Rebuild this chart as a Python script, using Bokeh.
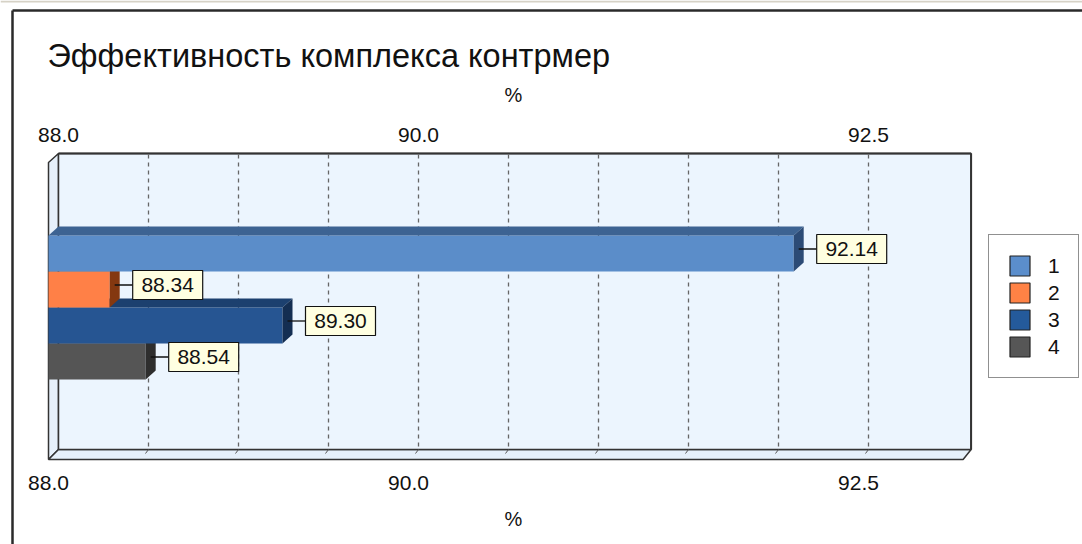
from bokeh.plotting import figure
from bokeh.models import Range1d, Legend, LegendItem
from bokeh.core.properties import value
from bokeh.embed import file_html
from bokeh.resources import INLINE

# ---------------- data ----------------
TITLE = "Эффективность комплекса контрмер"
AXIS_TITLE = "%"
SERIES = ["1", "2", "3", "4"]
VALUES = [92.14, 88.34, 89.30, 88.54]
VALUE_LABELS = ["92.14", "88.34", "89.30", "88.54"]
TICKS = [88.0, 90.0, 92.5]
TICK_LABELS = ["88.0", "90.0", "92.5"]
GRID = [88.5, 89.0, 89.5, 90.0, 90.5, 91.0, 91.5, 92.0, 92.5]
X_MIN = 88.0
X_MAX = 93.07

COLORS_FRONT = ["#5B8DC9", "#FF8047", "#265592", "#555555"]
COLORS_TOP = ["#3D6392", "#A84A1C", "#1C406F", "#3A3A3A"]
COLORS_SIDE = ["#2C4B76", "#843810", "#142E52", "#2E2E2E"]
LEGEND_COLORS = ["#5B8ECC", "#FF8245", "#245A9B", "#565656"]

# ---------------- layout ----------------
W, H = 1082, 544
PX = 180.0          # screen pixels per axis unit
ORIGIN = 58         # screen x of X_MIN on the back wall
DX, DY = 10, 9      # 3D depth offset in pixels
DXU = DX / PX
WALL_TOP, WALL_BOT = 153, 449
ROW_H = 36
ROWS_TOP = 235
FONT_NAME = "Liberation Sans"
FONT = value(FONT_NAME)
EDGE = "#333333"
TXT = "#111111"

x0 = X_MIN - ORIGIN / PX
xr = x0 + W / PX
p = figure(width=W, height=H, output_backend="svg", toolbar_location=None,
           x_range=Range1d(x0, xr), y_range=Range1d(H, 0),
           x_axis_type=None, y_axis_type=None, min_border=0,
           outline_line_color=None, background_fill_color="white",
           border_fill_color="white")

# window band and chart border (left and top)
p.segment(x0=[x0], y0=[1], x1=[xr], y1=[1], line_color="#D6D2C6", line_width=2)
p.segment(x0=[x0 + 12 / PX, x0 + 12 / PX], y0=[10, 10], x1=[x0 + 12 / PX, xr], y1=[H, 10],
          line_color="#2a2a2a", line_width=2.5)

# back wall, left wall, floor
WALL_FILL = "#ECF5FE"
p.patch(x=[X_MIN - DXU, X_MIN, X_MIN, X_MIN - DXU],
        y=[WALL_TOP + DY, WALL_TOP, WALL_BOT, WALL_BOT + DY + 1],
        fill_color="#E6F0FA", line_color=EDGE, line_width=1.5)
p.patch(x=[X_MIN - DXU, X_MIN, X_MAX, X_MAX - DXU * 0.8],
        y=[WALL_BOT + DY + 1, WALL_BOT, WALL_BOT, WALL_BOT + DY + 1],
        fill_color="#E6F0FA", line_color=EDGE, line_width=1.5)
p.quad(left=[X_MIN], right=[X_MAX], top=[WALL_TOP], bottom=[WALL_BOT],
       fill_color=WALL_FILL, line_color=EDGE, line_width=1.5)
p.segment(x0=[X_MIN, X_MAX], y0=[WALL_TOP, WALL_TOP], x1=[X_MAX, X_MAX], y1=[WALL_TOP, WALL_BOT],
          line_color=EDGE, line_width=2)

# grid lines (dashed) and floor ticks
p.segment(x0=GRID, y0=[WALL_TOP + 1] * len(GRID), x1=GRID, y1=[WALL_BOT] * len(GRID),
          line_color="#666666", line_width=1.3, line_dash="4 4")
p.segment(x0=GRID, y0=[WALL_BOT] * len(GRID), x1=[g - 3 / PX for g in GRID],
          y1=[WALL_BOT + 4] * len(GRID), line_color="#555555", line_width=1)

# bars (drawn bottom-up so upper bars hide lower bars' top faces)
fronts = {}
for i in list(range(len(VALUES)))[::-1]:
    v = VALUES[i]
    yt = ROWS_TOP + ROW_H * i
    yb = yt + ROW_H
    p.quad(left=[X_MIN - DXU], right=[v - DXU], top=[yt], bottom=[yb],
           fill_color=COLORS_FRONT[i], line_color=None)
    p.patch(x=[X_MIN - DXU, X_MIN, v, v - DXU], y=[yt, yt - DY, yt - DY, yt],
            fill_color=COLORS_TOP[i], line_color=None)
    p.patch(x=[v - DXU, v, v, v - DXU], y=[yt, yt - DY, yb - DY, yb],
            fill_color=COLORS_SIDE[i], line_color=None)
    # hidden copy used only for the legend swatch (with border)
    fronts[i] = p.quad(left=[X_MIN - DXU], right=[v - DXU], top=[yt], bottom=[yb],
                       fill_color=LEGEND_COLORS[i], line_color="#222222", line_width=1.2,
                       visible=False)

# value labels with connectors
yc = [ROWS_TOP + ROW_H * i + ROW_H / 2 - DY / 2 for i in range(len(VALUES))]
p.segment(x0=[v - 5 / PX for v in VALUES], y0=yc, x1=[v + 13 / PX for v in VALUES], y1=yc,
          line_color=TXT, line_width=1.3)
lx = [v + 48 / PX for v in VALUES]
p.rect(x=lx, y=yc, width=70, height=29, width_units="screen", height_units="screen",
       fill_color="#FFFFE1", line_color=TXT, line_width=1.2)
p.text(x=lx, y=yc, text=VALUE_LABELS, text_align="center", text_baseline="middle",
       text_font=FONT, text_font_size="21px", text_color=TXT)

# axis tick labels (top: back plane, bottom: front plane)
p.text(x=TICKS, y=[134] * len(TICKS), text=TICK_LABELS, text_align="center",
       text_baseline="middle", text_font=FONT, text_font_size="21px", text_color=TXT)
p.text(x=[t - DXU for t in TICKS], y=[482] * len(TICKS), text=TICK_LABELS, text_align="center",
       text_baseline="middle", text_font=FONT, text_font_size="21px", text_color=TXT)
xmid = X_MIN + (513 - ORIGIN) / PX
p.text(x=[xmid, xmid], y=[94, 518], text=[AXIS_TITLE, AXIS_TITLE], text_align="center",
       text_baseline="middle", text_font=FONT, text_font_size="20px", text_color=TXT)

# title
p.text(x=[x0 + 47 / PX], y=[55], text=[TITLE], text_align="left", text_baseline="alphabetic",
       text_font=FONT, text_font_size="32.5px", text_color=TXT)

# legend
items = [LegendItem(label=s, renderers=[fronts[i]]) for i, s in enumerate(SERIES)]
legend = Legend(items=items, location=(988, 544 - 378), glyph_width=25, glyph_height=25,
                label_height=25, label_width=8, spacing=2, padding=18, margin=0,
                label_standoff=16,
                border_line_color="#222222", border_line_width=1.2,
                background_fill_color="white", background_fill_alpha=1.0,
                label_text_font=FONT_NAME, label_text_font_size="21px", label_text_color=TXT)
p.add_layout(legend)

open("out.html", "w").write(file_html(p, INLINE))
